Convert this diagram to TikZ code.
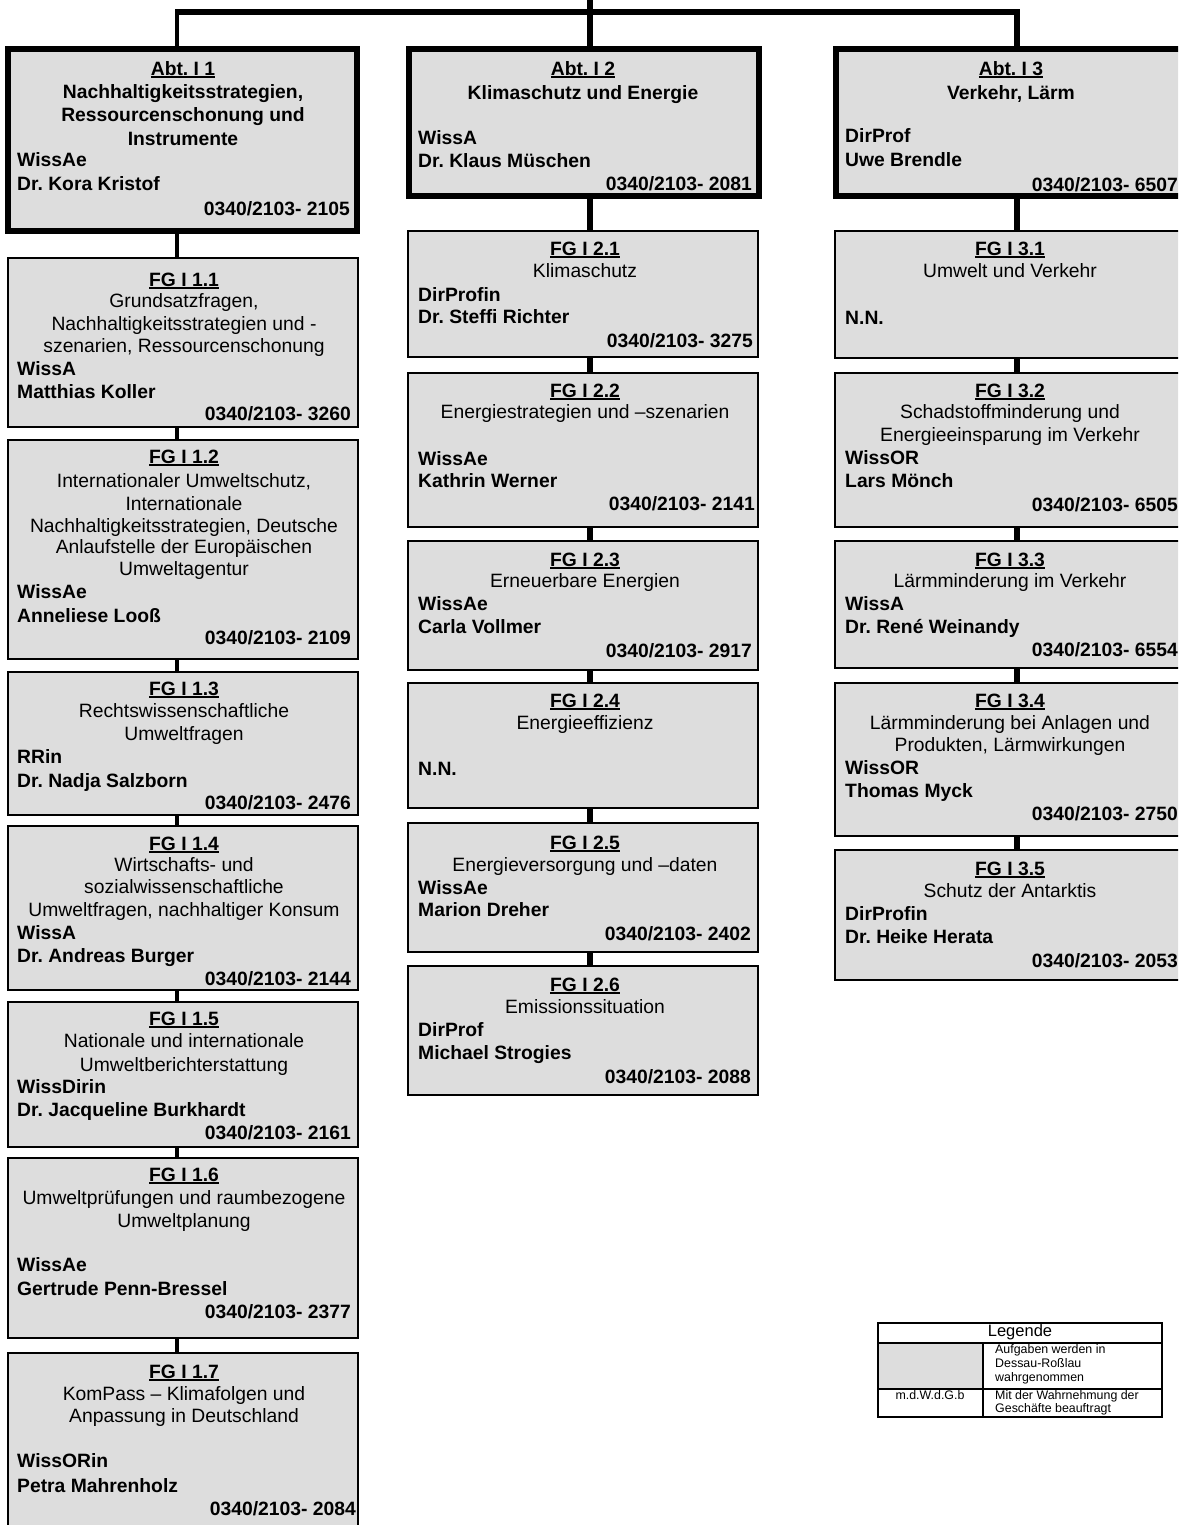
\documentclass[tikz,border=0pt]{standalone}
\usepackage{fontspec}
\setmainfont{Liberation Sans}
\frenchspacing
\definecolor{boxgray}{RGB}{221,221,221}
\newcounter{tn}
\newcommand\mainsize{\fontsize{19.3}{23}\selectfont}
\newcommand\ttl[1]{\setbox0\hbox{#1}\rlap{\rule[-2.8pt]{\wd0}{1.6pt}}\box0}
\newcommand\mybox[6]{\node[#1, minimum width={#5-#3}, minimum height={#6-#4}] (#2) at ({(#3+#5)/2},{(#4+#6)/2}) {};}
\newcommand\tcen[3]{\stepcounter{tn}\node[ctx] (t\arabic{tn}) at (#1,#2) {#3};}
\newcommand\tlft[3]{\stepcounter{tn}\node[ltx] (t\arabic{tn}) at (#1,#2) {#3};}
\newcommand\trgt[3]{\stepcounter{tn}\node[rtx] (t\arabic{tn}) at (#1,#2) {#3};}
\begin{document}
\begin{tikzpicture}[x=1pt,y=-1pt,
  font=\mainsize,
  abtbox/.style={draw, rectangle, line width=6pt, fill=boxgray, inner sep=0pt, outer sep=0pt},
  fgbox/.style={draw, rectangle, line width=1.8pt, fill=boxgray, inner sep=0pt, outer sep=0pt},
  thickconn/.style={line width=6.5pt},
  thinconn/.style={line width=3.5pt},
  ctx/.style={anchor=mid, inner sep=0pt, yshift=-2.5pt},
  ltx/.style={anchor=mid west, inner sep=0pt, yshift=-2.5pt, font=\mainsize\bfseries},
  rtx/.style={anchor=mid east, inner sep=0pt, yshift=-2.5pt, font=\mainsize\bfseries},
  legtx/.style={anchor=mid west, inner sep=0pt, font=\fontsize{12.4}{13}\selectfont},
  legfr/.style={draw, rectangle, line width=1.1pt, inner sep=0pt, outer sep=0pt}
]
\useasboundingbox (0,0) rectangle (1178,1525);
\clip (0,0) rectangle (1178,1525);
\fill[white] (0,0) rectangle (1178,1525);
\coordinate (colL) at (177,0);
\coordinate (colM) at (590,0);
\coordinate (colR) at (1017,0);
\coordinate (hl) at (0,12);
\coordinate (topM) at (590,0);

% ---------- Left column ----------
\mybox{abtbox}{abt1}{8}{49}{357}{231}
\tcen{183}{70}{\bfseries\ttl{Abt. I 1}}
\tcen{183}{93}{\bfseries Nachhaltigkeitsstrategien,}
\tcen{183}{116}{\bfseries Ressourcenschonung und}
\tcen{183}{140}{\bfseries Instrumente}
\tlft{17}{161}{WissAe}
\tlft{17}{185}{Dr. Kora Kristof}
\trgt{350}{210}{0340/2103- 2105}

\mybox{fgbox}{fg11}{8}{258}{358}{427}
\tcen{184}{281}{\bfseries\ttl{FG I 1.1}}
\tcen{184}{302}{Grundsatzfragen,}
\tcen{184}{325}{Nachhaltigkeitsstrategien und -}
\tcen{184}{347}{szenarien, Ressourcenschonung}
\tlft{17}{370}{WissA}
\tlft{17}{393}{Matthias Koller}
\trgt{351}{415}{0340/2103- 3260}

\mybox{fgbox}{fg12}{8}{440}{358}{659}
\tcen{184}{458}{\bfseries\ttl{FG I 1.2}}
\tcen{184}{482}{Internationaler Umweltschutz,}
\tcen{184}{505}{Internationale}
\tcen{184}{527}{Nachhaltigkeitsstrategien, Deutsche}
\tcen{184}{548}{Anlaufstelle der Europäischen}
\tcen{184}{570}{Umweltagentur}
\tlft{17}{593}{WissAe}
\tlft{17}{617}{Anneliese Looß}
\trgt{351}{639}{0340/2103- 2109}

\mybox{fgbox}{fg13}{8}{672}{358}{815}
\tcen{184}{690}{\bfseries\ttl{FG I 1.3}}
\tcen{184}{712}{Rechtswissenschaftliche}
\tcen{184}{735}{Umweltfragen}
\tlft{17}{758}{RRin}
\tlft{17}{782}{Dr. Nadja Salzborn}
\trgt{351}{804}{0340/2103- 2476}

\mybox{fgbox}{fg14}{8}{826}{358}{990}
\tcen{184}{845}{\bfseries\ttl{FG I 1.4}}
\tcen{184}{866}{Wirtschafts- und}
\tcen{184}{888}{sozialwissenschaftliche}
\tcen{184}{911}{Umweltfragen, nachhaltiger Konsum}
\tlft{17}{934}{WissA}
\tlft{17}{957}{Dr. Andreas Burger}
\trgt{351}{980}{0340/2103- 2144}

\mybox{fgbox}{fg15}{8}{1002}{358}{1147}
\tcen{184}{1020}{\bfseries\ttl{FG I 1.5}}
\tcen{184}{1042}{Nationale und internationale}
\tcen{184}{1066}{Umweltberichterstattung}
\tlft{17}{1088}{WissDirin}
\tlft{17}{1111}{Dr. Jacqueline Burkhardt}
\trgt{351}{1134}{0340/2103- 2161}

\mybox{fgbox}{fg16}{8}{1158}{358}{1338}
\tcen{184}{1176}{\bfseries\ttl{FG I 1.6}}
\tcen{184}{1199}{Umweltprüfungen und raumbezogene}
\tcen{184}{1222}{Umweltplanung}
\tlft{17}{1266}{WissAe}
\tlft{17}{1290}{Gertrude Penn-Bressel}
\trgt{351}{1313}{0340/2103- 2377}

\mybox{fgbox}{fg17}{8}{1353}{358}{1545}
\tcen{184}{1373}{\bfseries\ttl{FG I 1.7}}
\tcen{184}{1395}{KomPass – Klimafolgen und}
\tcen{184}{1417}{Anpassung in Deutschland}
\tlft{17}{1462}{WissORin}
\tlft{17}{1487}{Petra Mahrenholz}
\trgt{356}{1510}{0340/2103- 2084}

% ---------- Middle column ----------
\mybox{abtbox}{abt2}{409}{49}{759}{196}
\tcen{583}{70}{\bfseries\ttl{Abt. I 2}}
\tcen{583}{94}{\bfseries Klimaschutz und Energie}
\tlft{418}{139}{WissA}
\tlft{418}{162}{Dr. Klaus Müschen}
\trgt{752}{185}{0340/2103- 2081}

\mybox{fgbox}{fg21}{408}{231}{758}{357}
\tcen{585}{250}{\bfseries\ttl{FG I 2.1}}
\tcen{585}{272}{Klimaschutz}
\tlft{418}{296}{DirProfin}
\tlft{418}{318}{Dr. Steffi Richter}
\trgt{753}{342}{0340/2103- 3275}

\mybox{fgbox}{fg22}{408}{373}{758}{527}
\tcen{585}{392}{\bfseries\ttl{FG I 2.2}}
\tcen{585}{413}{Energiestrategien und –szenarien}
\tlft{418}{460}{WissAe}
\tlft{418}{482}{Kathrin Werner}
\trgt{755}{505}{0340/2103- 2141}

\mybox{fgbox}{fg23}{408}{541}{758}{670}
\tcen{585}{561}{\bfseries\ttl{FG I 2.3}}
\tcen{585}{582}{Erneuerbare Energien}
\tlft{418}{605}{WissAe}
\tlft{418}{628}{Carla Vollmer}
\trgt{752}{652}{0340/2103- 2917}

\mybox{fgbox}{fg24}{408}{683}{758}{808}
\tcen{585}{702}{\bfseries\ttl{FG I 2.4}}
\tcen{585}{724}{Energieeffizienz}
\tlft{418}{770}{N.N.}

\mybox{fgbox}{fg25}{408}{823}{758}{952}
\tcen{585}{844}{\bfseries\ttl{FG I 2.5}}
\tcen{585}{866}{Energieversorgung und –daten}
\tlft{418}{889}{WissAe}
\tlft{418}{911}{Marion Dreher}
\trgt{751}{935}{0340/2103- 2402}

\mybox{fgbox}{fg26}{408}{966}{758}{1095}
\tcen{585}{986}{\bfseries\ttl{FG I 2.6}}
\tcen{585}{1008}{Emissionssituation}
\tlft{418}{1031}{DirProf}
\tlft{418}{1054}{Michael Strogies}
\trgt{751}{1078}{0340/2103- 2088}

% ---------- Right column ----------
\mybox{abtbox}{abt3}{836}{49}{1188}{196}
\tcen{1011}{70}{\bfseries\ttl{Abt. I 3}}
\tcen{1011}{94}{\bfseries Verkehr, Lärm}
\tlft{845}{137}{DirProf}
\tlft{845}{161}{Uwe Brendle}
\trgt{1178}{186}{0340/2103- 6507}

\mybox{fgbox}{fg31}{835}{231}{1186}{358}
\tcen{1010}{250}{\bfseries\ttl{FG I 3.1}}
\tcen{1010}{272}{Umwelt und Verkehr}
\tlft{845}{319}{N.N.}

\mybox{fgbox}{fg32}{835}{373}{1186}{527}
\tcen{1010}{392}{\bfseries\ttl{FG I 3.2}}
\tcen{1010}{413}{Schadstoffminderung und}
\tcen{1010}{436}{Energieeinsparung im Verkehr}
\tlft{845}{459}{WissOR}
\tlft{845}{482}{Lars Mönch}
\trgt{1178}{506}{0340/2103- 6505}

\mybox{fgbox}{fg33}{835}{541}{1186}{668}
\tcen{1010}{561}{\bfseries\ttl{FG I 3.3}}
\tcen{1010}{582}{Lärmminderung im Verkehr}
\tlft{845}{605}{WissA}
\tlft{845}{628}{Dr. René Weinandy}
\trgt{1178}{651}{0340/2103- 6554}

\mybox{fgbox}{fg34}{835}{683}{1186}{836}
\tcen{1010}{702}{\bfseries\ttl{FG I 3.4}}
\tcen{1010}{724}{Lärmminderung bei Anlagen und}
\tcen{1010}{746}{Produkten, Lärmwirkungen}
\tlft{845}{769}{WissOR}
\tlft{845}{792}{Thomas Myck}
\trgt{1178}{815}{0340/2103- 2750}

\mybox{fgbox}{fg35}{835}{850}{1186}{980}
\tcen{1010}{870}{\bfseries\ttl{FG I 3.5}}
\tcen{1010}{892}{Schutz der Antarktis}
\tlft{845}{915}{DirProfin}
\tlft{845}{938}{Dr. Heike Herata}
\trgt{1178}{962}{0340/2103- 2053}

% ---------- Connectors ----------
\draw[thickconn, line join=miter] ([xshift=-2pt]hl -| colL) -- (hl -| colR) -- (abt3.north -| colR);
\draw[line width=4pt] (hl -| colL) -- (abt1.north -| colL);
\draw[thickconn] (topM) -- (abt2.north -| colM);

\draw[thinconn] (abt1.south -| colL) -- (fg11.north -| colL);
\draw[thinconn] (fg11.south -| colL) -- (fg12.north -| colL);
\draw[thinconn] (fg12.south -| colL) -- (fg13.north -| colL);
\draw[thinconn] (fg13.south -| colL) -- (fg14.north -| colL);
\draw[thinconn] (fg14.south -| colL) -- (fg15.north -| colL);
\draw[thinconn] (fg15.south -| colL) -- (fg16.north -| colL);
\draw[thinconn] (fg16.south -| colL) -- (fg17.north -| colL);

\draw[thickconn] (abt2.south -| colM) -- (fg21.north -| colM);
\draw[thickconn] (fg21.south -| colM) -- (fg22.north -| colM);
\draw[thickconn] (fg22.south -| colM) -- (fg23.north -| colM);
\draw[thickconn] (fg23.south -| colM) -- (fg24.north -| colM);
\draw[thickconn] (fg24.south -| colM) -- (fg25.north -| colM);
\draw[thickconn] (fg25.south -| colM) -- (fg26.north -| colM);

\draw[thickconn] (abt3.south -| colR) -- (fg31.north -| colR);
\draw[thickconn] (fg31.south -| colR) -- (fg32.north -| colR);
\draw[thickconn] (fg32.south -| colR) -- (fg33.north -| colR);
\draw[thickconn] (fg33.south -| colR) -- (fg34.north -| colR);
\draw[thickconn] (fg34.south -| colR) -- (fg35.north -| colR);

% ---------- Legend ----------
\fill[boxgray] (878,1343) rectangle (983,1389);
\mybox{legfr}{leg}{878}{1323}{1162}{1417}
\coordinate (legr1) at (0,1343);
\coordinate (legr2) at (0,1389);
\coordinate (legc) at (983,0);
\draw[line width=1.1pt] (legr1 -| leg.west) -- (legr1 -| leg.east);
\draw[line width=1.1pt] (legr2 -| leg.west) -- (legr2 -| leg.east);
\draw[line width=1.1pt] (legr1 -| legc) -- (leg.south -| legc);
\stepcounter{tn}\node[anchor=mid, inner sep=0pt, font=\fontsize{16.5}{18}\selectfont] (t\arabic{tn}) at (1020,1334) {Legende};
\stepcounter{tn}\node[legtx] (t\arabic{tn}) at (995,1351) {Aufgaben werden in};
\stepcounter{tn}\node[legtx] (t\arabic{tn}) at (995,1365) {Dessau-Roßlau};
\stepcounter{tn}\node[legtx] (t\arabic{tn}) at (995,1379) {wahrgenommen};
\stepcounter{tn}\node[legtx, anchor=mid] (t\arabic{tn}) at (930,1397) {m.d.W.d.G.b};
\stepcounter{tn}\node[legtx] (t\arabic{tn}) at (995,1397) {Mit der Wahrnehmung der};
\stepcounter{tn}\node[legtx] (t\arabic{tn}) at (995,1410) {Geschäfte beauftragt};
\end{tikzpicture}
\end{document}
